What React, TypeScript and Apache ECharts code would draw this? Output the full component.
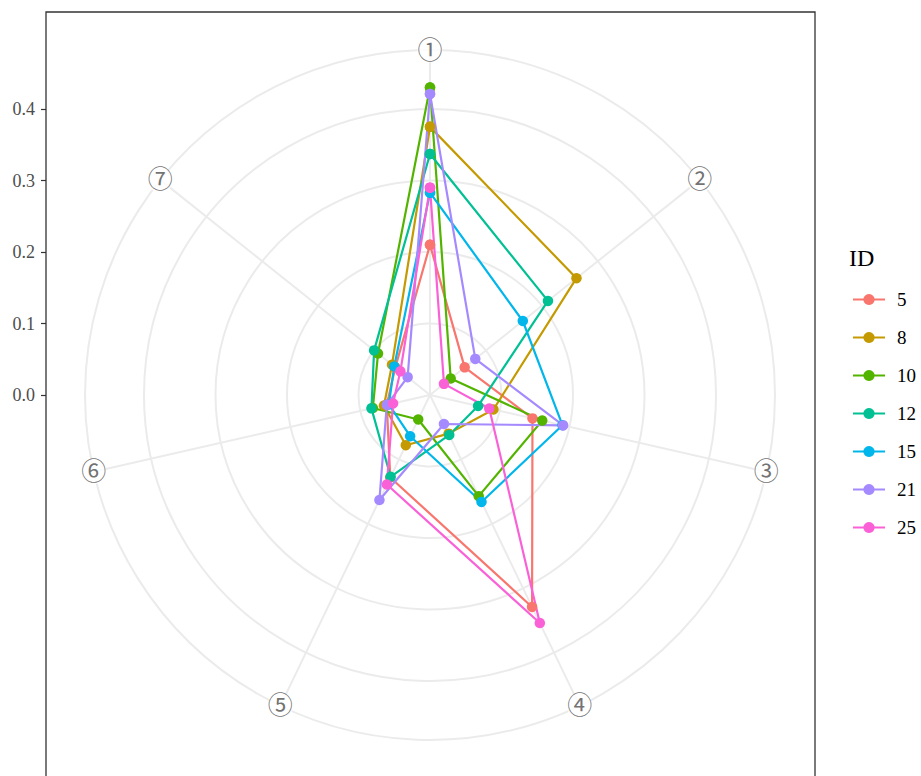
import React, { useEffect, useRef } from "react";
import * as echarts from "echarts";

// Axis (spoke) labels, series IDs and colours
const AXES = ["①", "②", "③", "④", "⑤", "⑥", "⑦"];
const IDS = ["5", "8", "10", "12", "15", "21", "25"];
const COLORS = ["#F8766D", "#C49A00", "#53B400", "#00C094", "#00B6EB", "#A58AFF", "#FB61D7"];

// Values per ID on axes ① .. ⑦
const id5 = [0.21, 0.062, 0.147, 0.329, 0.128, 0.062, 0.062];
const id8 = [0.375, 0.262, 0.091, 0.06, 0.078, 0.066, 0.068];
const id10 = [0.43, 0.037, 0.161, 0.157, 0.038, 0.082, 0.093];
const id12 = [0.337, 0.211, 0.069, 0.062, 0.127, 0.084, 0.1];
const id15 = [0.283, 0.166, 0.19, 0.166, 0.064, 0.059, 0.064];
const id21 = [0.421, 0.081, 0.191, 0.045, 0.163, 0.062, 0.04];
const id25 = [0.29, 0.025, 0.085, 0.354, 0.139, 0.053, 0.053];

// Radial tick labels
const Y_TICKS = ["0.0", "0.1", "0.2", "0.3", "0.4"];

const SERIES_VALUES = [id5, id8, id10, id12, id15, id21, id25];
const R_MAX = 0.4825; // outer ring of the plot
const FONT = "'Liberation Serif', 'DejaVu Serif', 'Noto Sans CJK JP', serif";

export default function App() {
  const ref = useRef<HTMLDivElement>(null);

  useEffect(() => {
    if (!ref.current) return;
    const chart = echarts.init(ref.current, undefined, { renderer: "svg" });
    const step = 360 / AXES.length;

    const lineSeries = IDS.map((id, k) => {
      const vals = SERIES_VALUES[k];
      const data = vals.map((v, i) => [v, i * step]);
      data.push([vals[0], 360]);
      return {
        name: id,
        type: "line",
        coordinateSystem: "polar",
        data,
        symbol: "circle",
        symbolSize: 10.5,
        showSymbol: true,
        lineStyle: { width: 2.2, color: COLORS[k] },
        itemStyle: { color: COLORS[k] },
        silent: true,
      };
    });

    const labelSeries = {
      name: "axes",
      type: "scatter",
      coordinateSystem: "polar",
      symbolSize: 1,
      itemStyle: { color: "rgba(0,0,0,0)" },
      silent: true,
      z: 5,
      data: AXES.map((n, i) => ({ value: [R_MAX, i * step], name: n })),
      label: {
        show: true,
        position: "inside",
        formatter: "{b}",
        fontSize: 25,
        fontFamily: FONT,
        color: "#4D4D4D",
        backgroundColor: "#ffffff",
        borderRadius: 12,
        padding: [0, 0, 0, 0],
      },
    };

    chart.setOption({
      animation: false,
      backgroundColor: "#ffffff",
      title: {
        text: "ID",
        left: 849,
        top: 246,
        padding: 0,
        textStyle: { fontSize: 24, fontWeight: "normal", color: "#000", fontFamily: FONT },
      },
      legend: {
        orient: "vertical",
        left: 847,
        top: 285,
        itemWidth: 32,
        itemHeight: 14,
        itemGap: 19,
        data: IDS,
        textStyle: { fontSize: 19, color: "#000", fontFamily: FONT, padding: [0, 0, 0, 7] },
      },
      polar: { center: [430, 395], radius: 345 },
      angleAxis: {
        type: "value",
        min: 0,
        max: 360,
        interval: step,
        startAngle: 90,
        clockwise: true,
        axisLine: { show: false },
        axisTick: { show: false },
        axisLabel: { show: false },
        splitLine: { show: true, lineStyle: { color: "#EBEBEB", width: 2 } },
      },
      radiusAxis: {
        type: "value",
        min: 0,
        max: R_MAX,
        interval: 0.1,
        axisLine: { show: false },
        axisTick: { show: false },
        axisLabel: { show: false },
        splitLine: { show: true, lineStyle: { color: "#EBEBEB", width: 2 } },
      },
      grid: { left: 46, top: 109, width: 769, height: 286 },
      xAxis: { type: "value", show: false, min: 0, max: 1 },
      yAxis: {
        type: "value",
        min: 0,
        max: 0.4,
        interval: 0.1,
        axisLine: { show: false },
        axisTick: { show: true, length: 5, lineStyle: { color: "#333333", width: 1.2 } },
        axisLabel: {
          color: "#4D4D4D",
          fontSize: 18,
          margin: 11,
          fontFamily: FONT,
          formatter: (v: number) => Y_TICKS[Math.round(v * 10)] ?? "",
        },
        splitLine: { show: false },
      },
      graphic: [
        {
          type: "rect",
          z: 100,
          silent: true,
          shape: { x: 46, y: 12, width: 769, height: 800 },
          style: { fill: "none", stroke: "#333333", lineWidth: 1.3 },
        },
      ],
      series: [...lineSeries, labelSeries],
    });

    return () => chart.dispose();
  }, []);

  return (
    <div
      ref={ref}
      style={{ position: "absolute", left: 0, top: 0, width: 921, height: 776 }}
    />
  );
}
